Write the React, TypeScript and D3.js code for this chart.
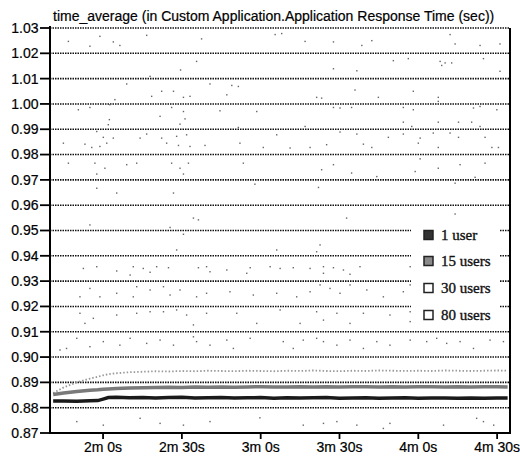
import React from "react";
import * as d3 from "d3";

const title = "time_average (in Custom Application.Application Response Time (sec))";
const seriesNames = ["1 user", "15 users", "30 users", "80 users"];
const yTicks = [0.87, 0.88, 0.89, 0.9, 0.91, 0.92, 0.93, 0.94, 0.95, 0.96, 0.97, 0.98, 0.99, 1.0, 1.01, 1.02, 1.03];
const xTicks = [120, 150, 180, 210, 240, 270];

const times = [101, 105, 110, 115, 118, 120, 122, 125, 130, 135, 140, 145, 150, 155, 160, 165, 170, 175, 180, 185, 190, 195, 200, 205, 210, 215, 220, 225, 230, 235, 240, 245, 250, 255, 260, 265, 270, 274];
const user1 = [0.8826, 0.8826, 0.8825, 0.8827, 0.8828, 0.8834, 0.884, 0.8841, 0.8839, 0.884, 0.8838, 0.884, 0.8841, 0.8838, 0.8839, 0.884, 0.8838, 0.8839, 0.884, 0.8837, 0.8839, 0.8838, 0.8839, 0.884, 0.8837, 0.8838, 0.8839, 0.8837, 0.8838, 0.8839, 0.8837, 0.8838, 0.8838, 0.8837, 0.8838, 0.8837, 0.8838, 0.8838];
const users15 = [0.8852, 0.8858, 0.8864, 0.8869, 0.8871, 0.8873, 0.8874, 0.8876, 0.8878, 0.8879, 0.888, 0.8881, 0.888, 0.8882, 0.8881, 0.8882, 0.8881, 0.8882, 0.8883, 0.8882, 0.8882, 0.8883, 0.8882, 0.8883, 0.8882, 0.8883, 0.8883, 0.8882, 0.8883, 0.8882, 0.8883, 0.8883, 0.8882, 0.8883, 0.8882, 0.8883, 0.8883, 0.8882];
const users30 = [0.8858, 0.888, 0.89, 0.8915, 0.8922, 0.8928, 0.8932, 0.8936, 0.894, 0.8942, 0.8944, 0.8943, 0.8945, 0.8944, 0.8946, 0.8945, 0.8944, 0.8946, 0.8945, 0.8944, 0.8946, 0.8945, 0.8947, 0.8945, 0.8944, 0.8946, 0.8945, 0.8947, 0.8946, 0.8945, 0.8946, 0.8945, 0.8947, 0.8946, 0.8945, 0.8946, 0.8947, 0.8946];

// 80 users: scattered samples [seconds, value]
const users80: [number, number][] = [
  [106.8, 1.0247], [115.0, 1.0228], [118.8, 1.0267], [123.9, 1.0245], [126.4, 1.0231], [136.6, 1.0271], [157.5, 1.0257], [185.5, 1.0274], [188.0, 1.0278], [196.9, 1.0247], [207.7, 1.0245], [218.5, 1.0231], [222.3, 1.025], [252.1, 1.0274], [254.0, 1.0237], [263.5, 1.0231], [271.1, 1.0237],
  [155.6, 1.0168], [149.5, 1.0134], [207.7, 1.0139], [216.6, 1.0131], [230.5, 1.0171], [236.2, 1.0179], [248.3, 1.0168], [248.9, 1.0152], [250.2, 1.0162], [252.7, 1.0162], [264.8, 1.0179], [271.1, 1.0129],
  [137.9, 1.0109], [129.0, 1.0079], [142.3, 1.005], [146.8, 1.005], [138.5, 1.003], [150.6, 1.0026], [153.1, 1.003], [160.7, 1.0079], [167.1, 1.0036], [169.0, 1.0073], [171.5, 1.0069], [201.3, 1.0026], [203.2, 1.0023], [215.9, 1.0055], [224.8, 1.0026], [238.1, 1.005], [247.6, 1.0026], [247.6, 1.001],
  [124.5, 1.0017], [122.6, 0.9997], [110.6, 0.9977], [115.0, 0.9986], [146.1, 0.9986], [150.6, 0.997], [141.7, 0.9951], [151.2, 0.9941], [164.5, 0.9973], [178.5, 0.997], [207.7, 0.9986], [210.2, 0.9984], [214.6, 0.9986], [234.3, 0.9986], [238.1, 0.9977], [261.0, 0.9984], [263.5, 0.999], [269.9, 0.9977], [234.3, 0.9928], [237.5, 0.9911], [247.6, 0.9928], [255.3, 0.9928], [260.3, 0.9928], [263.5, 0.9911], [122.4, 0.9938], [122.0, 0.9918], [149.3, 0.992], [171.5, 0.9907], [196.9, 0.9911],
  [117.6, 0.9891], [120.1, 0.9868], [123.9, 0.9865], [121.4, 0.9845], [115.7, 0.9828], [118.8, 0.9832], [113.1, 0.9841], [104.9, 0.9845], [134.1, 0.9865], [136.6, 0.9881], [142.3, 0.9865], [144.2, 0.9845], [148.0, 0.9872], [148.7, 0.9836], [151.8, 0.9878], [153.1, 0.9832], [158.8, 0.9836], [172.1, 0.9845], [181.0, 0.9828], [186.1, 0.9878], [191.2, 0.9826], [198.8, 0.9828], [205.1, 0.9839], [210.2, 0.9889], [216.6, 0.9881], [219.1, 0.9841], [222.3, 0.9828], [228.6, 0.9868], [234.3, 0.9881], [240.0, 0.9845], [240.7, 0.9865], [245.7, 0.9885], [247.6, 0.9828], [252.1, 0.9885], [255.3, 0.9868], [265.4, 0.9868], [268.0, 0.9828], [270.5, 0.9828],
  [106.8, 0.9766], [116.9, 0.9766], [120.7, 0.9746], [117.6, 0.9723], [129.0, 0.976], [132.8, 0.9766], [146.1, 0.9766], [149.3, 0.9746], [150.6, 0.9723], [152.5, 0.9766], [173.4, 0.9766], [203.2, 0.974], [207.7, 0.976], [214.6, 0.9727], [224.2, 0.9713], [238.8, 0.9733], [240.7, 0.9783], [247.6, 0.9746], [255.9, 0.976], [265.4, 0.9766], [261.6, 0.971],
  [117.6, 0.9667], [125.2, 0.9648], [146.8, 0.9648], [177.8, 0.9683], [202.0, 0.967], [254.0, 0.9687],
  [115.0, 0.9522], [154.4, 0.9549], [156.3, 0.9542], [212.7, 0.9549], [254.0, 0.9565], [145.5, 0.9512],
  [150.6, 0.9485], [148.0, 0.9423], [186.1, 0.9423], [201.3, 0.9416], [202.6, 0.9443],
  [112.5, 0.935], [117.6, 0.9357], [125.2, 0.934], [131.5, 0.9357], [135.3, 0.935], [140.4, 0.9357], [144.9, 0.9353], [156.3, 0.9353], [159.4, 0.9357], [167.1, 0.9344], [176.0, 0.9353], [183.6, 0.9357], [187.4, 0.935], [192.4, 0.9353], [198.8, 0.935], [203.9, 0.9357], [207.7, 0.9353], [211.5, 0.9344], [217.8, 0.9357], [236.9, 0.9357], [130.3, 0.9324], [137.9, 0.9335], [160.7, 0.9337], [174.7, 0.9331], [203.9, 0.9331], [214.0, 0.9327],
  [111.2, 0.9238], [115.0, 0.9271], [125.2, 0.9252], [132.8, 0.9278], [137.9, 0.9265], [143.0, 0.9278], [145.5, 0.9245], [149.3, 0.9265], [155.6, 0.9238], [159.4, 0.9252], [168.3, 0.9258], [177.2, 0.9245], [186.1, 0.9252], [193.7, 0.9238], [198.8, 0.9258], [202.6, 0.9285], [206.4, 0.9271], [210.2, 0.9252], [214.0, 0.9285], [220.4, 0.9265], [226.7, 0.9238], [234.3, 0.9258], [236.9, 0.9285], [118.8, 0.9238], [131.5, 0.9238],
  [111.2, 0.9173], [113.1, 0.9133], [116.3, 0.9153], [125.2, 0.9166], [132.8, 0.9173], [137.9, 0.9179], [143.0, 0.9179], [148.0, 0.9186], [151.8, 0.9166], [154.4, 0.9127], [159.4, 0.9173], [170.9, 0.9173], [178.5, 0.9133], [187.4, 0.9186], [195.0, 0.9133], [201.3, 0.9179], [203.9, 0.9146], [209.0, 0.9173], [214.0, 0.9133], [219.1, 0.9173], [229.2, 0.9166], [236.9, 0.9179], [236.9, 0.914], [239.4, 0.9166],
  [103.6, 0.9028], [106.1, 0.9034], [110.0, 0.9074], [115.0, 0.9041], [120.1, 0.9061], [126.4, 0.9047], [130.3, 0.9074], [136.6, 0.9054], [141.7, 0.9067], [146.8, 0.9047], [154.4, 0.908], [155.6, 0.9061], [160.7, 0.9047], [167.1, 0.9067], [169.6, 0.9034], [176.0, 0.9074], [188.6, 0.9061], [192.4, 0.9034], [196.2, 0.9067], [201.3, 0.9074], [203.9, 0.9061], [209.0, 0.9047], [214.0, 0.9067], [219.1, 0.9034], [224.2, 0.9061], [229.2, 0.9047], [236.9, 0.9067], [243.2, 0.9061], [247.0, 0.9074], [250.8, 0.9054], [255.9, 0.9061], [261.0, 0.9034], [267.3, 0.9067], [272.4, 0.9061],
  [110.0, 0.8745], [120.1, 0.8731], [134.1, 0.8758], [141.7, 0.8738], [150.6, 0.8731], [160.7, 0.8745], [179.7, 0.876], [196.2, 0.8731], [203.9, 0.8738], [209.0, 0.8745], [216.6, 0.8731], [226.7, 0.8718], [229.2, 0.8738], [249.6, 0.8731], [262.2, 0.8758], [264.8, 0.8745], [268.7, 0.8731],
];

const W = 520, H = 456;
const L = 50, R = 510, T = 28, B = 433;
const fmtTime = (s: number) => `${Math.floor(s / 60)}m ${s % 60}s`;

export default function App() {
  const x = d3.scaleLinear().domain([99.8, 274.9]).range([L, R]);
  const y = d3.scaleLinear().domain([0.87, 1.03]).range([B, T]);
  const line = d3.line<number>().x((_, i) => x(times[i])).y((d) => y(d));
  const legendY = [235, 261, 288, 315];
  const legendFill = ["#333", "#8a8a8a", "#fff", "#fff"];
  const sans = "'Liberation Sans', Arial, sans-serif";
  const serif = "'Liberation Serif', 'Times New Roman', serif";
  return (
    <svg width={W} height={H} style={{ position: "absolute", left: 0, top: 0, background: "#fff" }}>
      <rect x={0} y={0} width={W} height={H} fill="#fff" />
      <text x={53} y={21} fontFamily={sans} fontSize={14} fill="#000" stroke="#000" strokeWidth={0.2}>{title}</text>
      {yTicks.slice(1).map((v) => (
        <line key={"g" + v} x1={L} x2={R} y1={y(v)} y2={y(v)} stroke="#111" strokeWidth={1.6} strokeDasharray="1.5 1" />
      ))}
      {users80.map(([t, v], i) => (
        <rect key={"p" + i} x={x(t) - 0.7} y={y(v) - 0.7} width={1.4} height={1.4} fill="#666" />
      ))}
      <path d={line(users30) || ""} fill="none" stroke="#999" strokeWidth={1.8} strokeDasharray="1.5 2" />
      <path d={line(users15) || ""} fill="none" stroke="#7a7a7a" strokeWidth={3.5} />
      <path d={line(user1) || ""} fill="none" stroke="#1a1a1a" strokeWidth={3.5} />
      <line x1={L} x2={L} y1={T - 2} y2={B + 1} stroke="#000" strokeWidth={2} />
      <line x1={L} x2={R + 1} y1={B} y2={B} stroke="#000" strokeWidth={2} />
      <line x1={R} x2={R} y1={T} y2={B} stroke="#000" strokeWidth={2} />
      {yTicks.map((v) => (
        <g key={"y" + v}>
          <line x1={40} x2={L} y1={y(v)} y2={y(v)} stroke="#000" strokeWidth={1.8} />
          <text x={38.5} y={y(v)} dy="0.35em" textAnchor="end" fontFamily={sans} fontSize={14} fill="#000" stroke="#000" strokeWidth={0.2}>{v.toFixed(2)}</text>
        </g>
      ))}
      {xTicks.map((t) => (
        <g key={"x" + t}>
          <line x1={x(t)} x2={x(t)} y1={B} y2={B + 6} stroke="#000" strokeWidth={1.8} />
          <text x={x(t)} y={452} textAnchor="middle" fontFamily={sans} fontSize={14} fill="#000" stroke="#000" strokeWidth={0.2}>{fmtTime(t)}</text>
        </g>
      ))}
      <rect x={411} y={218} width={88} height={108} fill="#fff" />
      {seriesNames.map((n, i) => (
        <g key={n}>
          <rect x={424} y={legendY[i] - 4.5} width={9} height={9} fill={legendFill[i]} stroke="#222" strokeWidth={1.5} />
          <text x={441} y={legendY[i]} dy="0.35em" fontFamily={serif} fontSize={15} fill="#111" stroke="#111" strokeWidth={0.35}>{n}</text>
        </g>
      ))}
    </svg>
  );
}
